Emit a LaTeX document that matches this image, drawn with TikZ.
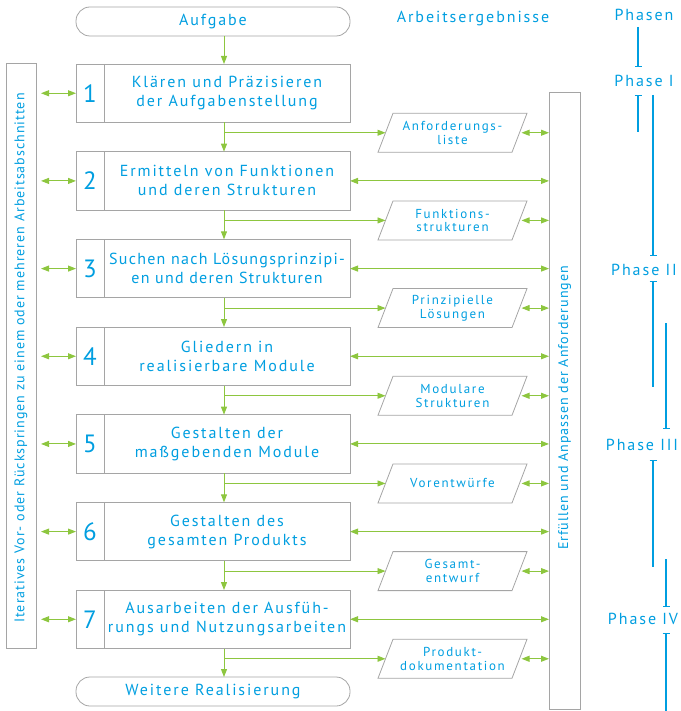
\documentclass[tikz,border=0pt]{standalone}
\usepackage{fontspec}
\setmainfont{PT Sans}
\newfontfamily\mainf{PT Sans}[LetterSpace=12]
\newfontfamily\tightf{PT Sans}[LetterSpace=8]
\newfontfamily\paraf{PT Sans}[LetterSpace=13]
\newfontfamily\rotf{PT Sans}[LetterSpace=7]
\usetikzlibrary{arrows.meta,calc}
\definecolor{tblue}{RGB}{0,158,224}
\definecolor{tgreen}{RGB}{141,198,63}
\definecolor{tgray}{RGB}{165,165,165}
\begin{document}
\begin{tikzpicture}[x=1pt,y=-1pt,
  every node/.style={text=tblue, inner sep=0pt, outer sep=0pt},
  stepbox/.style={draw=tgray, line width=0.8pt, minimum width=274pt, minimum height=58.5pt},
  endbox/.style={draw=tgray, line width=0.8pt, rounded corners=14pt, minimum width=274pt, minimum height=29pt, font=\mainf\fontsize{16}{19}\selectfont},
  steptext/.style={align=center, font=\mainf\fontsize{16}{19}\selectfont},
  steptight/.style={align=center, font=\tightf\fontsize{16}{19}\selectfont},
  stepnum/.style={font=\mainf\fontsize{25}{25}\selectfont},
  paratext/.style={align=center, font=\paraf\fontsize{13}{13.7}\selectfont},
  sidebox/.style={draw=tgray, line width=0.8pt},
  rottext/.style={rotate=90, font=\rotf\fontsize{14}{14}\selectfont},
  phtext/.style={font=\mainf\fontsize{16}{16}\selectfont},
  garrow/.style={draw=tgreen, line width=1pt, -{Triangle[length=8pt,width=6pt]}},
  gdbl/.style={draw=tgreen, line width=1pt, {Triangle[length=8pt,width=6pt]}-{Triangle[length=8pt,width=6pt]}},
  pline/.style={draw=tblue, line width=1.3pt},
  pbar/.style={pline, -{Bar[width=7pt]}},
  pbarstart/.style={pline, {Bar[width=7pt]}-},
]
\useasboundingbox (0,0) rectangle (680,711);
\coordinate (col) at (224,0);

% start and end
\node[endbox] (start) at (213,21.5) {Aufgabe};
\node[endbox] (end) at (213,691.5) {Weitere Realisierung};

% headings
\node[phtext] (hres) at (473,19) {Arbeitsergebnisse};

% side boxes
\node[sidebox, minimum width=30pt, minimum height=585pt] (lc) at (21,355.5) {};
\node[rottext] (lct) at (21,358) {Iteratives Vor- oder Rückspringen zu einem oder mehreren Arbeitsabschnitten};
\node[sidebox, minimum width=31pt, minimum height=617pt] (rc) at (564.5,400.5) {};
\node[rottext] (rct) at (564.5,408) {Erfüllen und Anpassen der Anforderungen};

% steps
\foreach \i/\st/\txt/\res in {
  1/steptext/{Klären und Präzisieren\\der Aufgabenstellung}/{Anforderungs-\\liste},
  2/steptext/{Ermitteln von Funktionen\\und deren Strukturen}/{Funktions-\\strukturen},
  3/steptight/{Suchen nach Lösungsprinzipi-\\en und deren Strukturen}/{Prinzipielle\\Lösungen},
  4/steptext/{Gliedern in\\realisierbare Module}/{Modulare\\Strukturen},
  5/steptext/{Gestalten der\\maßgebenden Module}/{Vorentwürfe},
  6/steptext/{Gestalten des\\gesamten Produkts}/{Gesamt-\\entwurf},
  7/steptext/{Ausarbeiten der Ausfüh-\\rungs und Nutzungsarbeiten}/{Produkt-\\dokumentation}} {
  \pgfmathsetmacro{\cy}{93.25+(\i-1)*87.67}
  \pgfmathsetmacro{\py}{\cy+39.5}
  \node[stepbox] (b\i) at (213,\cy) {};
  \draw[tgray, line width=0.8pt] ($(b\i.north west)+(28,0)$) -- ($(b\i.south west)+(28,0)$);
  \node[stepnum] (n\i) at (90,\cy) {\i};
  \node[\st] (t\i) at (227,\cy) {\txt};
  % result parallelogram
  \node[paratext] (p\i) at (452.5,\py) {\res};
  \draw[tgray, line width=0.8pt] ($(p\i)+(-74.5,19.5)$) -- ($(p\i)+(-59.5,-19.5)$) -- ($(p\i)+(74.5,-19.5)$) -- ($(p\i)+(59.5,19.5)$) -- cycle;
  \coordinate (pl\i) at ($(p\i)+(-67,0)$);
  \coordinate (pr\i) at ($(p\i)+(67,0)$);
  \draw[draw=tgreen, line width=0.9pt, -{Triangle[length=8pt,width=6pt]}] (p\i -| col) -- (pl\i);
  \draw[gdbl, shorten <=2pt] (pr\i) -- (pr\i -| rc.west);
  \draw[gdbl, shorten <=5pt] (b\i.west -| lc.east) -- (b\i.west);
}
\foreach \i in {2,...,7} {
  \draw[gdbl] (b\i.east) -- (b\i.east -| rc.west);
}
% main flow
\draw[garrow] (start.south -| col) -- (b1.north -| col);
\foreach \i [count=\j from 2] in {1,...,6} {
  \draw[garrow] (b\i.south -| col) -- (b\j.north -| col);
}
\draw[garrow] (b7.south -| col) -- (end.north -| col);

% phases
\node[phtext] (ph0) at (644,15) {Phasen};
\node[phtext] (ph1) at (644,81) {Phase I};
\node[phtext] (ph2) at (644,270) {Phase II};
\node[phtext] (ph3) at (642,445) {Phase III};
\node[phtext] (ph4) at (643,619) {Phase IV};
\draw[pbar] (638,27) -- (638,67);
\draw[pbarstart] (638,95) -- (638,132);
\draw[pbar] (653,95) -- (653,256);
\draw[pbarstart] (653,281) -- (653,387);
\draw[pbar] (666,323) -- (666,429);
\draw[pbarstart] (653,460) -- (653,567);
\draw[pbar] (666,559) -- (666,607);
\draw[pbarstart] (666,633) -- (666,711);
\end{tikzpicture}
\end{document}
